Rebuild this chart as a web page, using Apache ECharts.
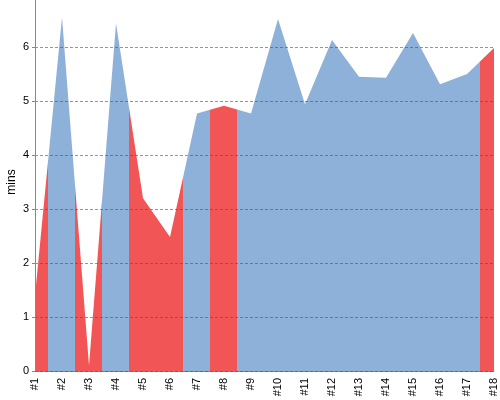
<!DOCTYPE html>
<html>
<head>
<meta charset="utf-8">
<script src="https://cdn.jsdelivr.net/npm/echarts@6/dist/echarts.min.js"></script>
<style>
  html, body { margin: 0; padding: 0; background: #fff; }
  #main { width: 500px; height: 400px; }
</style>
</head>
<body>
<div id="main"></div>
<script>
// categories on the x axis
var labels = ['#1', '#2', '#3', '#4', '#5', '#6', '#7', '#8', '#9',
    '#10', '#11', '#12', '#13', '#14', '#15', '#16', '#17', '#18'];
// minutes per entry
var minutes = [1.4, 6.55, 0.1, 6.44, 3.2, 2.48, 4.77, 4.91, 4.77,
    6.52, 4.94, 6.13, 5.45, 5.43, 6.26, 5.31, 5.5, 5.98];
// 1 = red band, 0 = blue band
var flagged = [1, 0, 1, 0, 1, 1, 0, 1, 0, 0, 0, 0, 0, 0, 0, 0, 0, 1];

var RED = '#f25555';
var BLUE = '#8eb1da';

var chart = echarts.init(document.getElementById('main'));

// x is a value axis (index) so the colour bands can split half way between points
// (a category axis rounds the piece edges to whole categories)
var points = [];
for (let i = 0; i < minutes.length; i++) {
    points.push([i, minutes[i]]);
}

var pieces = [];
for (let i = 0; i < flagged.length; i++) {
    pieces.push({
        gt: i - 0.5,
        lte: i + 0.5,
        color: flagged[i] ? RED : BLUE
    });
}

var option = {
    animation: false,
    grid: {
        left: 35,
        right: 6,
        top: -7,
        bottom: 29,
        outerBoundsMode: 'none'
    },
    visualMap: {
        type: 'piecewise',
        show: false,
        dimension: 0,
        seriesIndex: 0,
        pieces: pieces
    },
    xAxis: {
        type: 'value',
        min: 0,
        max: labels.length - 1,
        interval: 1,
        axisLine: { lineStyle: { color: '#888', width: 1 } },
        axisTick: { show: false },
        splitLine: { show: false },
        axisLabel: {
            rotate: 90,
            color: '#000',
            fontSize: 11,
            fontFamily: 'Liberation Sans',
            margin: 7,
            formatter: function (v) {
                return labels[v] || '';
            }
        }
    },
    yAxis: {
        type: 'value',
        min: 0,
        max: 7,
        interval: 1,
        z: 5,
        name: 'mins',
        nameLocation: 'middle',
        nameGap: 17,
        nameMoveOverlap: false,
        nameTextStyle: {
            color: '#000',
            fontSize: 12,
            fontFamily: 'Liberation Sans'
        },
        axisLine: { show: true, lineStyle: { color: '#888', width: 1 } },
        axisTick: { show: true, length: 3, lineStyle: { color: '#888' } },
        axisLabel: {
            color: '#000',
            fontSize: 11,
            fontFamily: 'Liberation Sans',
            margin: 6,
            showMaxLabel: false
        },
        splitLine: {
            show: true,
            lineStyle: {
                color: 'rgba(80,80,80,0.6)',
                type: [3, 2],
                width: 1
            }
        }
    },
    series: [{
        type: 'line',
        data: points,
        showSymbol: false,
        lineStyle: { width: 0 },
        areaStyle: { opacity: 1 }
    }]
};

chart.setOption(option);
</script>
</body>
</html>
